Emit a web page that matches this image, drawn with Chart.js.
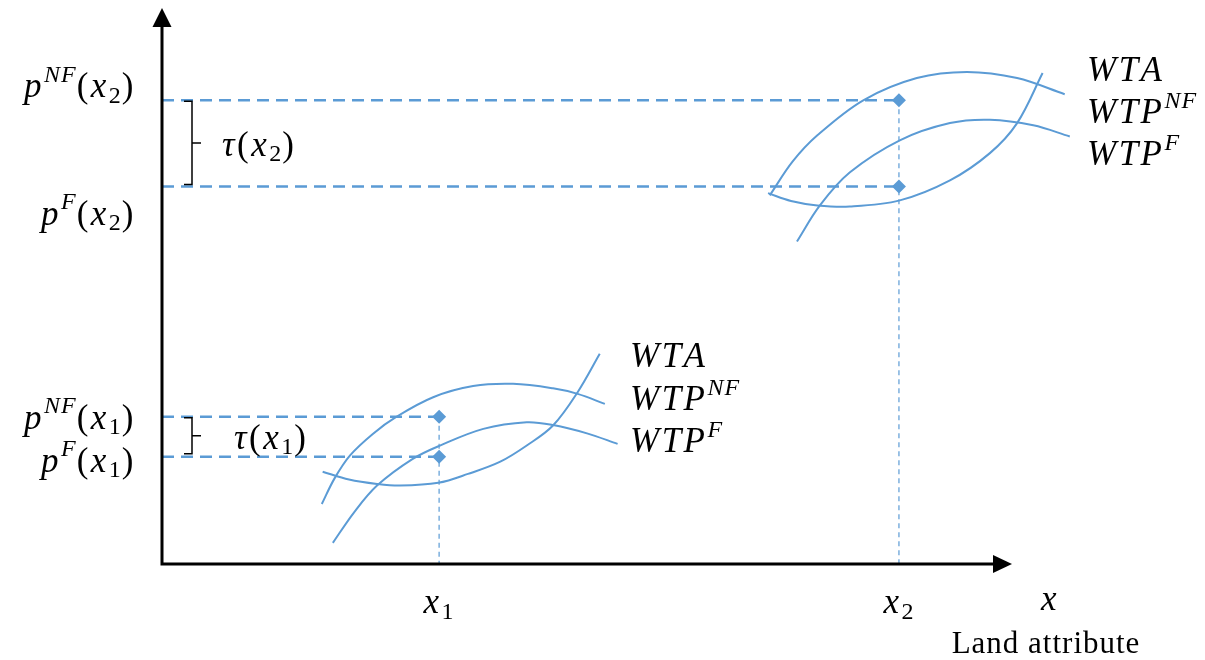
<!DOCTYPE html>
<html>
<head>
<meta charset="utf-8">
<script src="https://cdn.jsdelivr.net/npm/chart.js@4"></script>
<style>
  body { margin: 0; background: #fff; }
  canvas { display: block; }
</style>
</head>
<body>
<canvas id="chart" width="1205" height="660"></canvas>
<script>
// positions on the land-attribute axis and the two price levels at each
const xMarks = [32.6, 86.7];
const priceNF = [26.5, 83.4];
const priceF = [19.3, 67.9];

// lower bundle of curves (around x1)
const wta1X = [18.9, 22.0, 25.3, 28.0, 32.5, 36.0, 39.8, 43.0, 46.0, 48.9, 51.5];
const wta1Y = [16.6, 15.2, 14.4, 14.1, 14.6, 16.2, 18.4, 21.4, 24.9, 30.9, 37.8];
const wtpNF1X = [18.8, 20.3, 22.1, 24.8, 27.6, 31.9, 36.6, 41.3, 46.0, 48.9, 52.1];
const wtpNF1Y = [10.8, 15.4, 19.5, 23.4, 26.5, 30.0, 32.0, 32.4, 31.6, 30.6, 28.8];
const wtpF1X = [20.1, 22.6, 25.3, 29.5, 32.7, 37.8, 42.9, 46.0, 50.0, 53.6];
const wtpF1Y = [3.8, 9.3, 14.1, 18.9, 21.3, 24.3, 25.5, 25.0, 23.5, 21.6];

// upper bundle of curves (around x2)
const wta2X = [71.3, 74.0, 77.1, 80.9, 86.8, 92.7, 97.4, 100.6, 103.6];
const wta2Y = [66.7, 65.3, 64.5, 64.3, 65.4, 69.0, 73.9, 79.3, 88.3];
const wtpNF2X = [71.5, 74.2, 77.1, 82.5, 88.8, 94.7, 100.6, 106.2];
const wtpNF2Y = [66.3, 72.4, 77.1, 83.4, 87.4, 88.5, 87.4, 84.5];
const wtpF2X = [74.7, 77.4, 80.9, 86.8, 92.7, 97.4, 102.5, 106.8];
const wtpF2Y = [58.0, 64.5, 70.4, 76.2, 79.3, 79.9, 78.9, 76.9];

const curveLabels = ["WTA", "WTP^{NF}", "WTP^{F}"];

const BLUE = "#5b9bd5";
const MATH_FONT = "'Liberation Serif', serif";

function zip(xs, ys) {
  return xs.map((x, i) => ({ x: x, y: ys[i] }));
}

function curve(xs, ys) {
  return {
    data: zip(xs, ys),
    showLine: true,
    borderColor: BLUE,
    borderWidth: 2,
    pointRadius: 0,
    tension: 0.35,
    fill: false
  };
}

function hDash(i) {
  return [priceNF[i], priceF[i]].map((p) => ({
    data: [{ x: 0, y: p }, { x: xMarks[i], y: p }],
    showLine: true,
    borderColor: BLUE,
    borderWidth: 2.5,
    borderDash: [12, 7],
    pointRadius: 0
  }));
}

function vDash(i) {
  return {
    data: [{ x: xMarks[i], y: priceNF[i] }, { x: xMarks[i], y: 0 }],
    showLine: true,
    borderColor: BLUE,
    borderWidth: 1.2,
    borderDash: [5, 4],
    pointRadius: 0
  };
}

// draws text like "p^{NF}(x_{2})" with italic letters, upright digits/parens
function drawMath(ctx, str, x, y, size, align) {
  const parts = [];
  let i = 0;
  while (i < str.length) {
    const c = str[i];
    if ((c === "^" || c === "_") && str[i + 1] === "{") {
      const end = str.indexOf("}", i);
      const inner = str.slice(i + 2, end);
      for (const ch of inner) parts.push({ t: ch, mode: c === "^" ? "sup" : "sub" });
      i = end + 1;
    } else {
      parts.push({ t: c, mode: "" });
      i++;
    }
  }
  const fontFor = (p) => {
    const s = p.mode ? Math.round(size * 0.68) : size;
    const italic = /[A-Za-zτ]/.test(p.t);
    return (italic ? "italic " : "") + s + "px " + MATH_FONT;
  };
  let w = 0;
  parts.forEach((p) => {
    ctx.font = fontFor(p);
    p.w = ctx.measureText(p.t).width + (p.mode ? 1 : 2.5);
    w += p.w;
  });
  let cx = align === "right" ? x - w : align === "center" ? x - w / 2 : x;
  ctx.textBaseline = "middle";
  ctx.textAlign = "left";
  parts.forEach((p) => {
    ctx.font = fontFor(p);
    let dy = 0;
    if (p.mode === "sup") dy = -size * 0.36;
    if (p.mode === "sub") dy = size * 0.24;
    ctx.fillText(p.t, cx, y + dy);
    cx += p.w;
  });
}

function bracket(ctx, x, top, bottom) {
  const mid = (top + bottom) / 2;
  ctx.beginPath();
  ctx.moveTo(x - 8, top);
  ctx.lineTo(x, top);
  ctx.lineTo(x, bottom);
  ctx.lineTo(x - 8, bottom);
  ctx.moveTo(x, mid);
  ctx.lineTo(x + 9, mid);
  ctx.stroke();
}

const diagramPlugin = {
  id: "diagram",
  afterDatasetsDraw(chart) {
    const ctx = chart.ctx;
    const xs = chart.scales.x;
    const ys = chart.scales.y;
    const ox = xs.getPixelForValue(0);
    const oy = ys.getPixelForValue(0);
    const topY = ys.getPixelForValue(100);
    const endX = xs.getPixelForValue(100);

    ctx.save();
    // axes with arrow heads
    ctx.strokeStyle = "#000";
    ctx.fillStyle = "#000";
    ctx.lineWidth = 3;
    ctx.beginPath();
    ctx.moveTo(ox, oy);
    ctx.lineTo(ox, topY + 16);
    ctx.moveTo(ox - 1.5, oy);
    ctx.lineTo(endX - 16, oy);
    ctx.stroke();
    ctx.beginPath();
    ctx.moveTo(ox, topY);
    ctx.lineTo(ox - 9.5, topY + 19);
    ctx.lineTo(ox + 9.5, topY + 19);
    ctx.closePath();
    ctx.fill();
    ctx.beginPath();
    ctx.moveTo(endX, oy);
    ctx.lineTo(endX - 19, oy - 9);
    ctx.lineTo(endX - 19, oy + 9);
    ctx.closePath();
    ctx.fill();

    // price labels on the y axis
    const size = 35;
    const px = (v) => ys.getPixelForValue(v);
    drawMath(ctx, "p^{NF}(x_{2})", 136, px(priceNF[1]) - 12, size, "right");
    drawMath(ctx, "p^{F}(x_{2})", 136, px(priceF[1]) + 29, size, "right");
    drawMath(ctx, "p^{NF}(x_{1})", 136, px(priceNF[0]) + 3, size, "right");
    drawMath(ctx, "p^{F}(x_{1})", 136, px(priceF[0]) + 6, size, "right");

    // tax wedge brackets
    ctx.lineWidth = 1.5;
    bracket(ctx, 192, px(priceNF[1]) + 1, px(priceF[1]) - 2);
    bracket(ctx, 192, px(priceNF[0]) + 1, px(priceF[0]) - 3);
    drawMath(ctx, "τ(x_{2})", 222, (px(priceNF[1]) + px(priceF[1])) / 2 + 3, size, "left");
    drawMath(ctx, "τ(x_{1})", 234, (px(priceNF[0]) + px(priceF[0])) / 2 + 3, size, "left");

    // curve labels
    const lowY = [358, 401, 443];
    const upY = [72, 114, 156];
    curveLabels.forEach((t, i) => {
      drawMath(ctx, t, 630, lowY[i], size, "left");
      drawMath(ctx, t, 1087, upY[i], size, "left");
    });

    // x-axis labels
    drawMath(ctx, "x_{1}", xs.getPixelForValue(xMarks[0]), 604, size, "center");
    drawMath(ctx, "x_{2}", xs.getPixelForValue(xMarks[1]), 604, size, "center");
    drawMath(ctx, "x", 1050, 601, size, "center");
    ctx.font = "31px 'Liberation Serif', serif";
    ctx.letterSpacing = "1px";
    ctx.textAlign = "center";
    ctx.textBaseline = "middle";
    ctx.fillText("Land attribute", 1046, 645);
    ctx.restore();
  }
};

new Chart(document.getElementById("chart"), {
  type: "scatter",
  data: {
    datasets: [
      ...hDash(0),
      ...hDash(1),
      vDash(0),
      vDash(1),
      curve(wta1X, wta1Y),
      curve(wtpNF1X, wtpNF1Y),
      curve(wtpF1X, wtpF1Y),
      curve(wta2X, wta2Y),
      curve(wtpNF2X, wtpNF2Y),
      curve(wtpF2X, wtpF2Y),
      {
        data: zip(xMarks.concat(xMarks), priceNF.concat(priceF)),
        pointStyle: "rectRot",
        pointRadius: 7,
        backgroundColor: BLUE,
        borderColor: BLUE,
        borderWidth: 0
      }
    ]
  },
  options: {
    responsive: false,
    animation: false,
    devicePixelRatio: 1,
    layout: { padding: { left: 162, right: 108, top: 8, bottom: 96 } },
    plugins: { legend: { display: false }, tooltip: { enabled: false } },
    scales: {
      x: { type: "linear", min: 0, max: 110, display: false },
      y: { type: "linear", min: 0, max: 100, display: false }
    }
  },
  plugins: [diagramPlugin]
});
</script>
</body>
</html>
